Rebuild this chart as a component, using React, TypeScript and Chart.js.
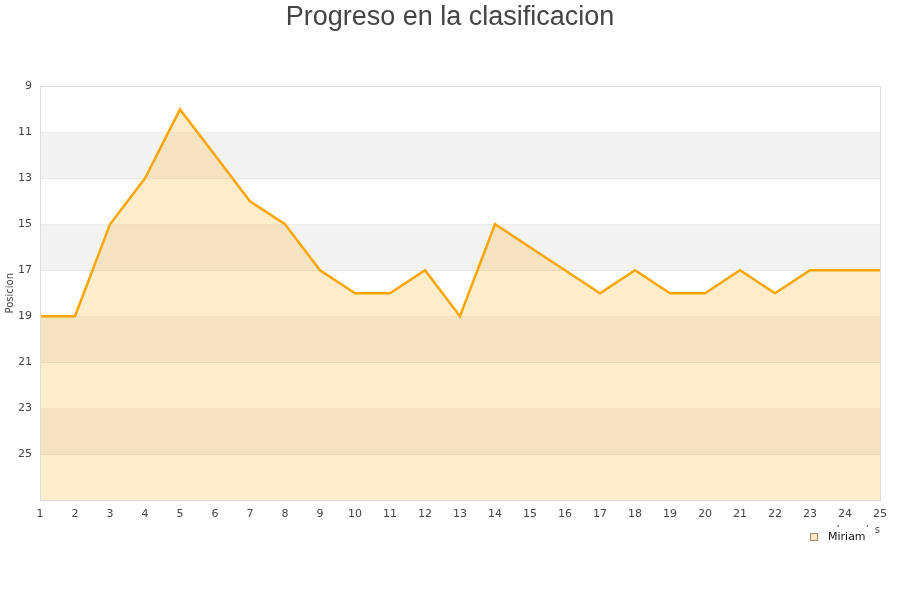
import React, { useEffect, useRef } from "react";
import { Chart, registerables } from "chart.js";

Chart.register(...registerables);

const jornadas = ["1","2","3","4","5","6","7","8","9","10","11","12","13","14","15","16","17","18","19","20","21","22","23","24","25"];
const posiciones = [19, 19, 15, 13, 10, 12, 14, 15, 17, 18, 18, 17, 19, 15, 16, 17, 18, 17, 18, 18, 17, 18, 17, 17, 17];
const serieNombre = "Miriam";
const tituloGrafico = "Progreso en la clasificacion";
const tituloY = "Posicion";
const tituloX = "Jornadas";
const yMin = 9;
const yMax = 27;

const FONT = "'DejaVu Sans', sans-serif";

const bandsPlugin = {
  id: "bands",
  beforeDatasetsDraw(chart: any) {
    const { ctx, chartArea } = chart;
    const y = chart.scales.y;
    ctx.save();
    for (let v = yMin; v < yMax; v += 2) {
      const idx = (v - yMin) / 2;
      if (idx % 2 === 1) {
        const t = y.getPixelForValue(v);
        const b = y.getPixelForValue(v + 2);
        ctx.fillStyle = "#f3f3f3";
        ctx.fillRect(chartArea.left, t, chartArea.right - chartArea.left, b - t);
      }
    }
    ctx.restore();
  },
};

const frameLegendPlugin = {
  id: "frameLegend",
  afterDraw(chart: any) {
    const { ctx, chartArea } = chart;
    ctx.save();
    ctx.strokeStyle = "#dcdcdc";
    ctx.lineWidth = 1;
    ctx.strokeRect(Math.round(chartArea.left) + 0.5, Math.round(chartArea.top) + 0.5,
      Math.round(chartArea.right - chartArea.left), Math.round(chartArea.bottom - chartArea.top));
    // legend with white background (covers part of the axis title)
    ctx.fillStyle = "#ffffff";
    ctx.fillRect(804, 527, 70, 22);
    ctx.fillStyle = "rgba(255,165,0,0.25)";
    ctx.fillRect(810.5, 533.5, 7, 7);
    ctx.strokeStyle = "#9a8a70";
    ctx.strokeRect(810.5, 533.5, 7, 7);
    ctx.fillStyle = "#111111";
    ctx.font = "11px " + FONT;
    ctx.textBaseline = "middle";
    ctx.textAlign = "left";
    ctx.fillText(serieNombre, 828, 537);
    ctx.restore();
  },
};

export default function App() {
  const ref = useRef<HTMLCanvasElement>(null);
  useEffect(() => {
    if (!ref.current) return;
    const chart = new Chart(ref.current, {
      type: "line",
      data: {
        labels: jornadas,
        datasets: [
          {
            label: serieNombre,
            data: posiciones,
            borderColor: "#ffa500",
            backgroundColor: "rgba(255,165,0,0.2)",
            borderWidth: 2.5,
            pointRadius: 0,
            pointHoverRadius: 0,
            tension: 0,
            fill: { value: yMax },
          },
        ],
      },
      options: {
        animation: false,
        responsive: false,
        maintainAspectRatio: false,
        layout: { padding: { left: 0, right: 0, top: 0, bottom: 0 } },
        plugins: {
          legend: { display: false },
          tooltip: { enabled: false },
          title: {
            display: true,
            text: tituloGrafico,
            color: "#444444",
            font: { family: "'Liberation Sans', Arial, sans-serif", size: 27, weight: "normal" },
            padding: { top: 1, bottom: 53 },
          },
        },
        scales: {
          x: {
            type: "category",
            offset: false,
            grid: { display: false, drawTicks: false },
            border: { display: false },
            ticks: {
              color: "#444444",
              font: { family: FONT, size: 11 },
              padding: 8,
              maxRotation: 0,
              autoSkip: false,
            },
            title: {
              display: true,
              text: tituloX,
              align: "end",
              color: "#444444",
              font: { family: FONT, size: 10 },
              padding: { top: 4, bottom: 64 },
            },
            afterFit(scale: any) {
              scale.height = 100;
            },
          },
          y: {
            reverse: true,
            min: yMin,
            max: yMax,
            grid: { color: "#e2e2e2", drawTicks: false },
            border: { display: false },
            ticks: {
              stepSize: 2,
              color: "#444444",
              font: { family: FONT, size: 11 },
              padding: 8,
              callback: (v: any) => (v === yMax ? "" : String(v)),
            },
            title: {
              display: true,
              text: tituloY,
              color: "#444444",
              font: { family: FONT, size: 10 },
              padding: { top: 4, bottom: 0 },
            },
            afterFit(scale: any) {
              scale.width = 40;
            },
          },
          yRight: {
            position: "right",
            reverse: true,
            min: yMin,
            max: yMax,
            grid: { display: false, drawTicks: false },
            border: { display: false },
            ticks: { display: false },
            afterFit(scale: any) {
              scale.width = 20;
            },
          },
        },
      },
      plugins: [bandsPlugin, frameLegendPlugin],
    });
    return () => chart.destroy();
  }, []);
  return (
    <div style={{ position: "fixed", left: 0, top: 0, width: 900, height: 600, background: "#ffffff" }}>
      <canvas ref={ref} width={900} height={600} style={{ width: 900, height: 600 }} />
    </div>
  );
}
